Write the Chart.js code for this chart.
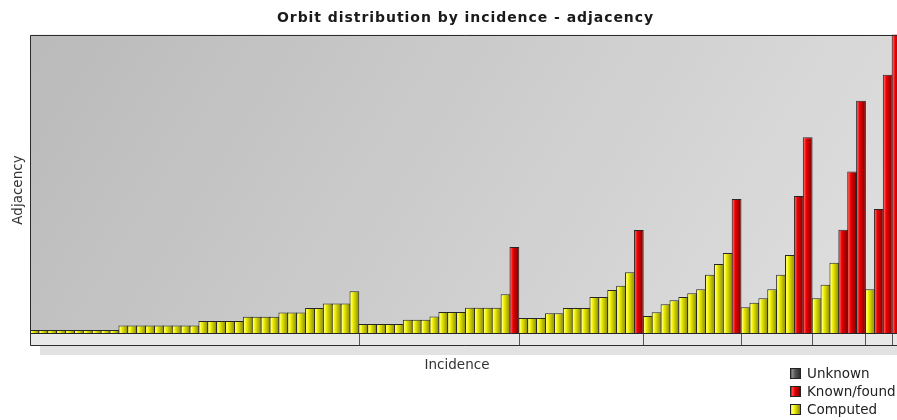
<!DOCTYPE html>
<html>
<head>
<meta charset="utf-8">
<script src="https://cdn.jsdelivr.net/npm/chart.js@4/dist/chart.umd.min.js"></script>
<style>
  html, body { margin: 0; padding: 0; background: #ffffff; overflow: hidden; }
  #wrap { position: relative; width: 897px; height: 420px; overflow: hidden; background: #fff; }
  #c { position: absolute; left: 0; top: 0; }
  #legend { position: absolute; left: 790px; top: 364px; font: 13.5px "DejaVu Sans", sans-serif; color: #222; }
  .item { display: flex; align-items: center; height: 18px; white-space: nowrap; }
  .sw { width: 11px; height: 11px; border: 1px solid #222; box-sizing: border-box; margin-right: 6px; }
</style>
</head>
<body>
<div id="wrap">
  <canvas id="c" width="935" height="420" style="width:935px;height:420px"></canvas>
  <div id="legend"></div>
</div>
<script>
// ---- data (bar heights, arbitrary units) ----
const groupSizes = [37, 18, 14, 11, 8, 6, 3, 1];

const computed = [
  // group 1
  4, 4, 4, 4, 4, 4, 4, 4, 4, 4,
  8.6, 8.6, 8.6, 8.6, 8.6, 8.6, 8.6, 8.6, 8.6,
  13, 13, 13, 13, 13,
  17.3, 17.3, 17.3, 17.3,
  21.6, 21.6, 21.6,
  26, 26,
  30.5, 30.5, 30.5,
  42.6,
  // group 2
  10, 10, 10, 10, 10, 14.3, 14.3, 14.3, 17.6, 22, 22, 22, 26.3, 26.3, 26.3, 26.3, 39.6, null,
  // group 3
  16, 16, 16, 20.7, 20.7, 26, 26, 26, 37, 37, 44, 48.3, 61.7, null,
  // group 4
  18, 21.7, 29.7, 33.7, 37, 40.7, 44.7, 59.3, 70, 81, null,
  // group 5
  26.7, 31.3, 35.7, 44.7, 59.3, 79, null, null,
  // group 6
  35.7, 49.3, 71.3, null, null, null,
  // group 7
  44.7, null, null,
  // group 8
  null
];

const knownFound = [
  // group 1
  null, null, null, null, null, null, null, null, null, null,
  null, null, null, null, null, null, null, null, null,
  null, null, null, null, null,
  null, null, null, null,
  null, null, null,
  null, null,
  null, null, null,
  null,
  // group 2
  null, null, null, null, null, null, null, null, null, null, null, null, null, null, null, null, null, 87,
  // group 3
  null, null, null, null, null, null, null, null, null, null, null, null, null, 104,
  // group 4
  null, null, null, null, null, null, null, null, null, null, 135,
  // group 5
  null, null, null, null, null, null, 138, 196.7,
  // group 6
  null, null, null, 104.3, 162.3, 233,
  // group 7
  null, 125, 259,
  // group 8
  320
];

const unknown = [];

const seriesNames = ['Unknown', 'Known/found', 'Computed'];
const yMax = 299;

// category labels: group / position inside the group
const categories = [];
groupSizes.forEach((n, g) => { for (let k = 0; k < n; k++) categories.push((g + 1) + '.' + (k + 1)); });

// ---- styling ----
const palette = {
  unknown: { base: '#5a5a5a', light: '#8a8a8a', dark: '#2e2e2e' },
  known:   { base: '#ee0000', light: '#ff4a4a', dark: '#7a0000' },
  comp:    { base: '#eeee00', light: '#ffff70', dark: '#8a8a00' }
};

function barFill(p) {
  return (ctx) => {
    if (ctx.type !== 'data') return p.base;
    const chart = ctx.chart, xs = chart.scales.x;
    if (!xs || !chart.chartArea) return p.base;
    const cx = xs.getPixelForValue(ctx.dataIndex);
    const w = xs.width / categories.length;
    const g = chart.ctx.createLinearGradient(cx - w / 2, 0, cx + w / 2, 0);
    g.addColorStop(0, p.base);
    g.addColorStop(0.14, p.light);
    g.addColorStop(0.34, p.base);
    g.addColorStop(1, p.dark);
    return g;
  };
}

const titleSpacing = {
  id: 'titleSpacing',
  beforeDraw(chart) { chart.ctx.letterSpacing = '0.95px'; },
  afterDraw(chart) { chart.ctx.letterSpacing = '0px'; }
};

const framePlugin = {
  id: 'frame',
  beforeDraw(chart) {
    const { ctx, chartArea: a } = chart;
    const bandH = 11;
    ctx.save();
    // drop shadow under the axis band
    ctx.fillStyle = '#e2e2e2';
    ctx.fillRect(a.left + 10, a.bottom + bandH, a.right - a.left, 10);
    // plot background
    const g = ctx.createLinearGradient(a.left, a.top, a.right, a.bottom + 250);
    g.addColorStop(0, '#bababa');
    g.addColorStop(1, '#e6e6e6');
    ctx.fillStyle = g;
    ctx.fillRect(a.left, a.top, a.right - a.left, a.bottom - a.top);
    // axis band
    ctx.fillStyle = '#e8e8e8';
    ctx.fillRect(a.left, a.bottom, a.right - a.left, bandH);
    ctx.restore();
  },
  afterDatasetsDraw(chart) {
    const { ctx, chartArea: a, scales } = chart;
    const xs = scales.x;
    const bandH = 11;
    ctx.save();
    ctx.letterSpacing = '0px';
    ctx.strokeStyle = '#2b2b2b';
    ctx.lineWidth = 1;
    const L = Math.round(a.left) + 0.5, T = Math.round(a.top) + 0.5;
    const B = Math.round(a.bottom), R = a.right;
    ctx.beginPath();
    ctx.moveTo(L, B + bandH + 0.5); ctx.lineTo(L, T); ctx.lineTo(R, T);
    ctx.moveTo(L, B + bandH + 0.5); ctx.lineTo(R, B + bandH + 0.5);
    ctx.stroke();
    // group dividers in the axis band
    ctx.strokeStyle = '#555';
    let idx = 0;
    groupSizes.slice(0, -1).forEach(n => {
      idx += n;
      const x = Math.round((xs.getPixelForValue(idx - 1) + xs.getPixelForValue(idx)) / 2) + 0.5;
      ctx.beginPath(); ctx.moveTo(x, B); ctx.lineTo(x, B + bandH); ctx.stroke();
    });
    // axis titles
    ctx.fillStyle = '#333';
    ctx.font = '13.5px "DejaVu Sans", sans-serif';
    ctx.textAlign = 'center'; ctx.textBaseline = 'middle';
    ctx.fillText('Incidence', 457, 365);
    ctx.translate(18, 190); ctx.rotate(-Math.PI / 2);
    ctx.fillText('Adjacency', 0, 0);
    ctx.restore();
  }
};

const common = { borderColor: '#262626', borderWidth: 1, borderSkipped: false,
                 categoryPercentage: 1, barPercentage: 1.1, grouped: false };

const chart = new Chart(document.getElementById('c'), {
  type: 'bar',
  data: {
    labels: categories,
    datasets: [
      Object.assign({ label: seriesNames[0], data: unknown, backgroundColor: barFill(palette.unknown) }, common),
      Object.assign({ label: seriesNames[1], data: knownFound, backgroundColor: barFill(palette.known) }, common),
      Object.assign({ label: seriesNames[2], data: computed, backgroundColor: barFill(palette.comp) }, common)
    ]
  },
  options: {
    responsive: false,
    animation: false,
    layout: { padding: { left: 30, right: 34, top: 0, bottom: 86 } },
    scales: {
      x: { display: false, offset: true },
      y: { display: false, min: 0, max: yMax }
    },
    plugins: {
      legend: { display: false },
      tooltip: { enabled: false },
      title: {
        display: true,
        text: 'Orbit distribution by incidence - adjacency',
        color: '#1a1a1a',
        font: { family: '"DejaVu Sans", sans-serif', size: 14, weight: 'bold' },
        padding: { top: 10, bottom: 8 }
      }
    }
  },
  plugins: [titleSpacing, framePlugin]
});

// HTML legend built from the datasets
const legendEl = document.getElementById('legend');
[palette.unknown, palette.known, palette.comp].forEach((p, i) => {
  const item = document.createElement('div');
  item.className = 'item';
  const sw = document.createElement('span');
  sw.className = 'sw';
  sw.style.background = `linear-gradient(90deg, ${p.base} 0%, ${p.light} 20%, ${p.base} 40%, ${p.dark} 100%)`;
  const tx = document.createElement('span');
  tx.textContent = chart.data.datasets[i].label;
  item.appendChild(sw); item.appendChild(tx);
  legendEl.appendChild(item);
});
</script>
</body>
</html>
